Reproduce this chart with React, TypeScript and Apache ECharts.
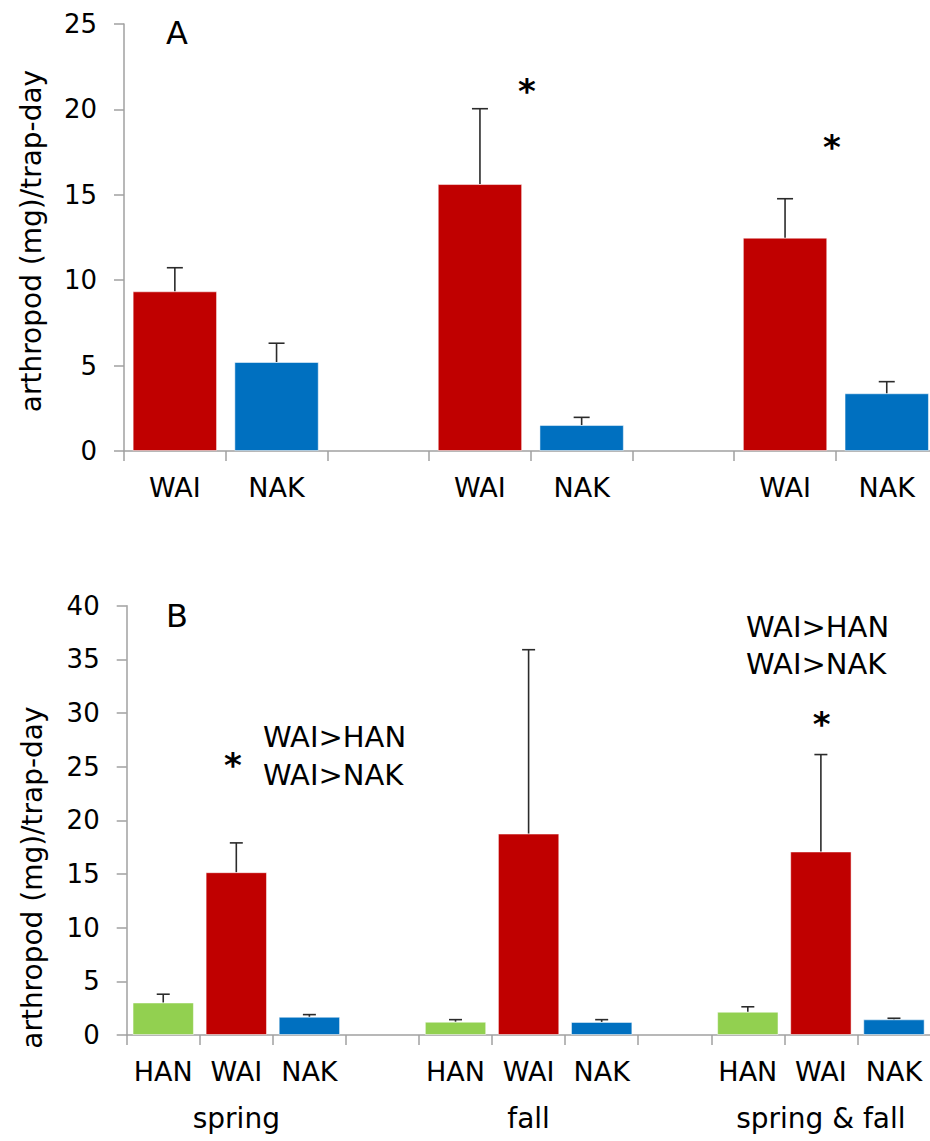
import React, { useEffect, useRef } from "react";
import * as echarts from "echarts";

// ---- Data ----
const topCategories = ["WAI", "NAK", "", "WAI", "NAK", "", "WAI", "NAK"];
const topMeans: (number | null)[] = [9.35, 5.21, null, 15.63, 1.52, null, 12.49, 3.38];
const topSE: (number | null)[] = [1.38, 1.1, null, 4.41, 0.45, null, 2.28, 0.68];

const bottomCategories = ["HAN", "WAI", "NAK", "", "HAN", "WAI", "NAK", "", "HAN", "WAI", "NAK"];
const bottomMeans: (number | null)[] = [3.03, 15.17, 1.7, null, 1.24, 18.77, 1.22, null, 2.17, 17.1, 1.46];
const bottomSE: (number | null)[] = [0.77, 2.73, 0.2, null, 0.19, 17.13, 0.21, null, 0.46, 9.03, 0.1];
const seasonLabels = ["", "spring", "", "", "", "fall", "", "", "", "spring & fall", ""];

const topTicks = { min: 0, max: 25, interval: 5 };
const bottomTicks = { min: 0, max: 40, interval: 5 };

const siteColors: Record<string, string> = {
  WAI: "#C00000",
  NAK: "#0070C0",
  HAN: "#92D050",
};

const yTitle = "arthropod (mg)/trap-day";
const FONT = "DejaVu Sans";

function barData(cats: string[], vals: (number | null)[]) {
  return vals.map((v, i) => ({
    value: v == null ? "-" : v,
    itemStyle: { color: siteColors[cats[i]] || "#999" },
  }));
}

function errData(vals: (number | null)[], se: (number | null)[]) {
  const out: number[][] = [];
  vals.forEach((v, i) => {
    if (v != null && se[i] != null) out.push([i, v, se[i] as number]);
  });
  return out;
}

function errRenderer(capHalf: number) {
  return (params: any, api: any) => {
    const x = api.value(0);
    const m = api.value(1);
    const e = api.value(2);
    const p0 = api.coord([x, m]);
    const p1 = api.coord([x, m + e]);
    const style = { stroke: "#2b2b2b", lineWidth: 1.6 };
    return {
      type: "group",
      children: [
        { type: "line", shape: { x1: p0[0], y1: p0[1], x2: p1[0], y2: p1[1] }, style },
        { type: "line", shape: { x1: p1[0] - capHalf, y1: p1[1], x2: p1[0] + capHalf, y2: p1[1] }, style },
      ],
    };
  };
}

const axisGray = "#a0a0a0";

export default function App() {
  const ref = useRef<HTMLDivElement>(null);
  useEffect(() => {
    if (!ref.current) return;
    const chart = echarts.init(ref.current, null, { renderer: "svg" });
    const yAxisCommon = {
      type: "value" as const,
      splitLine: { show: false },
      axisLine: { show: true, lineStyle: { color: axisGray, width: 1.5 } },
      axisTick: { show: true, length: 10, lineStyle: { color: axisGray, width: 1.5 } },
      axisLabel: { fontSize: 26, color: "#000", fontFamily: FONT, margin: 27 },
    };
    const xAxisCommon = {
      type: "category" as const,
      boundaryGap: true,
      axisLine: { show: true, lineStyle: { color: axisGray, width: 1.5 } },
      axisTick: { show: true, length: 10, interval: 0, lineStyle: { color: axisGray, width: 1.5 } },
      axisLabel: { interval: 0, fontSize: 27, color: "#000", fontFamily: FONT, margin: 23 },
    };
    const textStyle = (size: number, bold = false) => ({
      fontSize: size,
      fontFamily: FONT,
      fill: "#000",
      fontWeight: bold ? "bold" : "normal",
    });
    chart.setOption({
      animation: false,
      backgroundColor: "#ffffff",
      grid: [
        { left: 124, top: 24, width: 813.6, height: 427, outerBoundsMode: "none", containLabel: false },
        { left: 126.7, top: 605.7, width: 803.8, height: 429.3, outerBoundsMode: "none", containLabel: false },
      ],
      xAxis: [
        { ...xAxisCommon, gridIndex: 0, data: topCategories },
        { ...xAxisCommon, gridIndex: 1, data: bottomCategories },
        {
          type: "category",
          gridIndex: 1,
          position: "bottom",
          data: seasonLabels,
          axisLine: { show: false },
          axisTick: { show: false },
          axisLabel: { interval: 0, fontSize: 28, color: "#000", fontFamily: FONT, margin: 69 },
        },
      ],
      yAxis: [
        { ...yAxisCommon, gridIndex: 0, ...topTicks },
        { ...yAxisCommon, gridIndex: 1, ...bottomTicks },
      ],
      series: [
        {
          type: "bar",
          xAxisIndex: 0,
          yAxisIndex: 0,
          barWidth: "83%",
          data: barData(topCategories, topMeans),
          itemStyle: { borderColor: "rgba(255,255,255,0.5)", borderWidth: 1 },
        },
        {
          type: "custom",
          xAxisIndex: 0,
          yAxisIndex: 0,
          z: 5,
          renderItem: errRenderer(8),
          data: errData(topMeans, topSE),
        },
        {
          type: "bar",
          xAxisIndex: 1,
          yAxisIndex: 1,
          barWidth: "84%",
          data: barData(bottomCategories, bottomMeans),
          itemStyle: { borderColor: "rgba(255,255,255,0.5)", borderWidth: 1 },
        },
        {
          type: "custom",
          xAxisIndex: 1,
          yAxisIndex: 1,
          z: 5,
          renderItem: errRenderer(6.5),
          data: errData(bottomMeans, bottomSE),
        },
      ],
      graphic: [
        { type: "text", x: 177, y: 33, style: { text: "A", ...textStyle(32), textAlign: "center", textVerticalAlign: "middle" } },
        { type: "text", x: 177, y: 615.5, style: { text: "B", ...textStyle(32), textAlign: "center", textVerticalAlign: "middle" } },
        {
          type: "text", x: 31, y: 241, rotation: Math.PI / 2,
          style: { text: yTitle, ...textStyle(28), textAlign: "center", textVerticalAlign: "middle" },
        },
        {
          type: "text", x: 32, y: 877.6, rotation: Math.PI / 2,
          style: { text: yTitle, ...textStyle(28), textAlign: "center", textVerticalAlign: "middle" },
        },
        { type: "text", x: 527, y: 91, style: { text: "*", ...textStyle(34, true), textAlign: "center", textVerticalAlign: "middle" } },
        { type: "text", x: 832, y: 147, style: { text: "*", ...textStyle(34, true), textAlign: "center", textVerticalAlign: "middle" } },
        { type: "text", x: 233, y: 765, style: { text: "*", ...textStyle(34, true), textAlign: "center", textVerticalAlign: "middle" } },
        { type: "text", x: 821.7, y: 723.7, style: { text: "*", ...textStyle(34, true), textAlign: "center", textVerticalAlign: "middle" } },
        { type: "text", x: 263, y: 737, style: { text: "WAI>HAN", ...textStyle(29), textAlign: "left", textVerticalAlign: "middle" } },
        { type: "text", x: 263, y: 775, style: { text: "WAI>NAK", ...textStyle(29), textAlign: "left", textVerticalAlign: "middle" } },
        { type: "text", x: 746, y: 626.5, style: { text: "WAI>HAN", ...textStyle(29), textAlign: "left", textVerticalAlign: "middle" } },
        { type: "text", x: 746, y: 664, style: { text: "WAI>NAK", ...textStyle(29), textAlign: "left", textVerticalAlign: "middle" } },
      ],
    });
    return () => chart.dispose();
  }, []);
  return (
    <div
      ref={ref}
      style={{ position: "absolute", left: 0, top: 0, width: 930, height: 1141, background: "#fff" }}
    />
  );
}
